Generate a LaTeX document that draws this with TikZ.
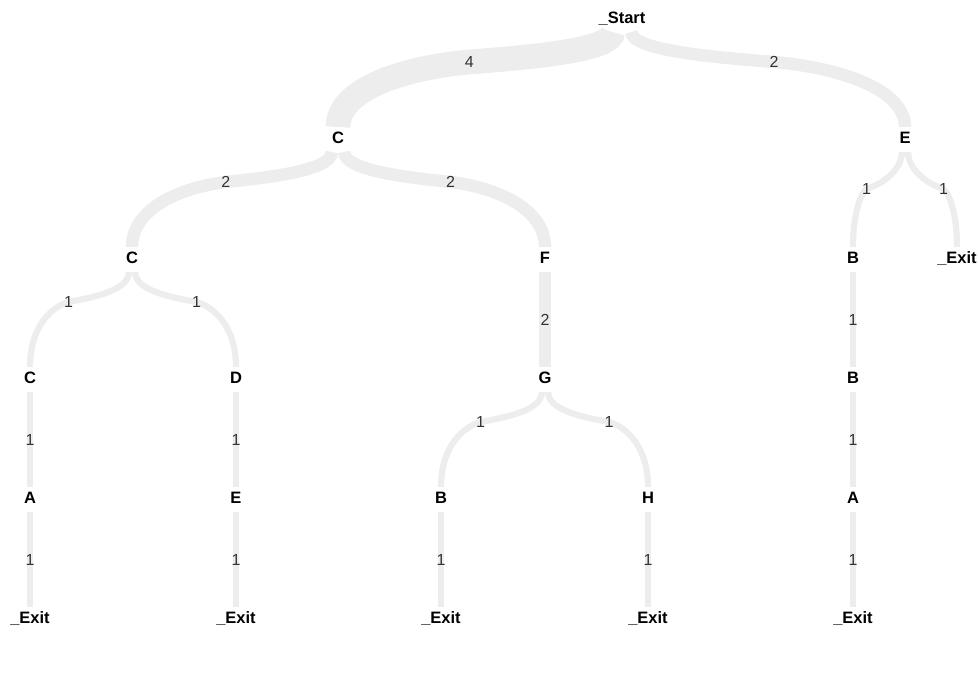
\documentclass[tikz,border=0pt]{standalone}
\usepackage{fontspec}
\setmainfont{Liberation Sans}
\usetikzlibrary{calc}
\definecolor{flowgray}{RGB}{237,237,237}
\definecolor{countgray}{RGB}{51,51,51}
\tikzset{
  act/.style={font=\fontsize{16.5}{19}\selectfont\bfseries, text height=11.8pt, text depth=0pt, inner sep=0pt},
  count/.style={font=\fontsize{16}{19}\selectfont, text=countgray, text height=11.5pt, text depth=0pt, inner sep=0pt},
  flow/.style={draw=flowgray, line width=#1*6.2pt}
}
% curved ribbon: parent, offset, child, count
\newcommand\flowcurve[4]{%
  \draw[flow=#4] let \p1=($(#1)+({#2*6.2},14)$), \p2=($(#3)+(0,-11)$),
    \n1={sign(\x2-\x1)*(abs(\x2-\x1)<150?11:6)},
    \n2={0.5*\x1+0.5*\x2+\n1},
    \n3={\y1-29pt-(abs(\x2-\x1)<60?8:1)} in
    (\p1) .. controls (\x1,{\y1-18pt}) and ({\n2+0.45*(\x1-\n2)},{\n3+5pt}) .. (\n2,\n3) node[count] {#4}
    .. controls ({\n2-0.45*(\n2-\x2)},{\n3-5pt}) and (\x2,{\n3-25pt}) .. (\p2);}
% straight ribbon: parent, child, count
\newcommand\flowline[3]{%
  \draw[flow=#3] ($(#1)+(0,14)$) -- node[count] {#3} ($(#2)+(0,-11)$);}
\begin{document}
\begin{tikzpicture}[x=1pt,y=-1pt]
\useasboundingbox (0,0) rectangle (978,688);
% activities
\node[act] (start) at (622,18) {\_Start};
\node[act] (c1) at (338,138) {C};
\node[act] (e1) at (905,138) {E};
\node[act] (c2) at (132,258) {C};
\node[act] (f2) at (545,258) {F};
\node[act] (b2) at (853,258) {B};
\node[act] (x2) at (957,258) {\_Exit};
\node[act] (c3) at (30,378) {C};
\node[act] (d3) at (236,378) {D};
\node[act] (g3) at (545,378) {G};
\node[act] (b3) at (853,378) {B};
\node[act] (a4) at (30,498) {A};
\node[act] (e4) at (236,498) {E};
\node[act] (b4) at (441,498) {B};
\node[act] (h4) at (648,498) {H};
\node[act] (a4r) at (853,498) {A};
\node[act] (x5a) at (30,618) {\_Exit};
\node[act] (x5b) at (236,618) {\_Exit};
\node[act] (x5c) at (441,618) {\_Exit};
\node[act] (x5d) at (648,618) {\_Exit};
\node[act] (x5e) at (853,618) {\_Exit};
% ribbons
\flowcurve{start}{-1.5}{c1}{4}
\flowcurve{start}{1.5}{e1}{2}
\flowcurve{c1}{-1}{c2}{2}
\flowcurve{c1}{1}{f2}{2}
\flowcurve{e1}{-0.5}{b2}{1}
\flowcurve{e1}{0.5}{x2}{1}
\flowcurve{c2}{-0.5}{c3}{1}
\flowcurve{c2}{0.5}{d3}{1}
\flowline{f2}{g3}{2}
\flowline{b2}{b3}{1}
\flowcurve{g3}{-0.5}{b4}{1}
\flowcurve{g3}{0.5}{h4}{1}
\flowline{c3}{a4}{1}
\flowline{d3}{e4}{1}
\flowline{b3}{a4r}{1}
\flowline{a4}{x5a}{1}
\flowline{e4}{x5b}{1}
\flowline{b4}{x5c}{1}
\flowline{h4}{x5d}{1}
\flowline{a4r}{x5e}{1}
\end{tikzpicture}
\end{document}
